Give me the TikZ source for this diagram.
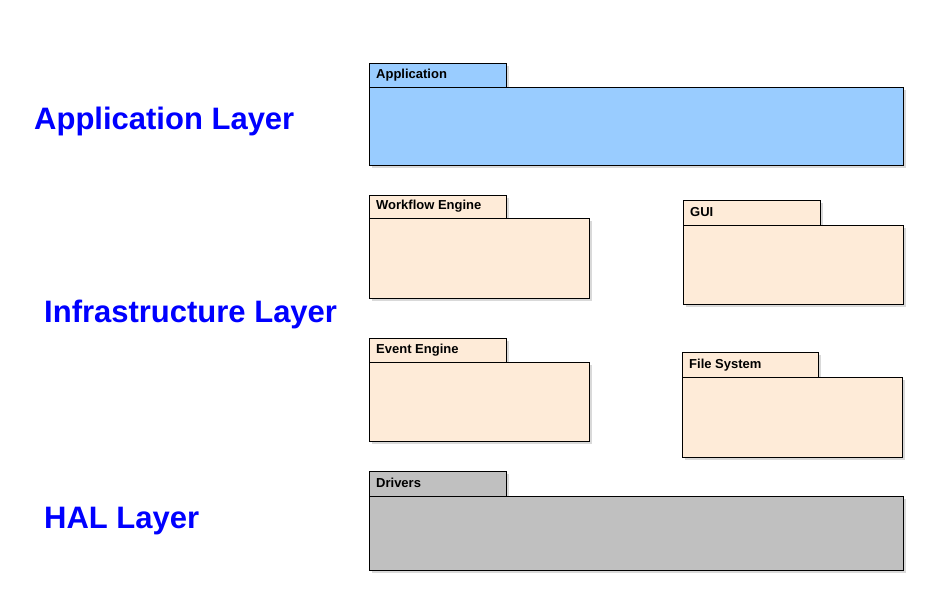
\documentclass[tikz,border=0pt]{standalone}
\usepackage{fontspec}
\setmainfont{Liberation Sans}
\definecolor{appblue}{HTML}{99CCFF}
\definecolor{peach}{HTML}{FEEBD8}
\definecolor{halgray}{HTML}{C0C0C0}
\definecolor{shade}{HTML}{D9D9D9}
\tikzset{
  box/.style={draw=black, line width=1pt, inner sep=0pt, anchor=north west},
  shadowbox/.style={fill=shade, draw=none, inner sep=0pt, anchor=north west},
  tabtext/.style={anchor=base west, inner sep=0pt, font=\bfseries\fontsize{13}{15}\selectfont},
  layer/.style={anchor=base west, inner sep=0pt, text=blue, font=\bfseries\fontsize{31}{36}\selectfont}
}
% #1 name, #2 x, #3 tab top, #4 tab right, #5 body top, #6 body right, #7 body bottom, #8 fill, #9 label
\newcommand\umlpkg[9]{%
  \path[shadowbox] (#2+3,#3+3) rectangle (#4+3,#5+3);
  \path[shadowbox] (#2+3,#5+3) rectangle (#6+3,#7+3);
  \draw[line width=1pt, fill=#8] (#2,#5) rectangle (#6,#7);
  \draw[line width=1pt, fill=#8] (#2,#3) rectangle (#4,#5);
  \node[box, draw=none, minimum width={(#6-#2)*1pt}, minimum height={(#7-#5)*1pt}] (#1) at (#2,#5) {};
  \node[tabtext] (#1-tab) at (#2+7,#5-8.5) {#9};
}
\begin{document}
\begin{tikzpicture}[x=1pt,y=-1pt]
\useasboundingbox (0,0) rectangle (933,595);
\fill[white] (0,0) rectangle (933,595);
\umlpkg{app}{369}{63}{506}{87}{903}{165}{appblue}{Application}
\umlpkg{wf}{369}{195}{506}{218}{589}{298}{peach}{Workflow Engine}
\umlpkg{gui}{683}{200}{820}{225}{903}{304}{peach}{GUI}
\umlpkg{ev}{369}{338}{506}{362}{589}{441}{peach}{Event Engine}
\umlpkg{fs}{682}{352}{818}{377}{902}{457}{peach}{File System}
\umlpkg{drv}{369}{471}{506}{496}{903}{570}{halgray}{Drivers}
\node[layer] (lapp) at (34,129.5) {Application Layer};
\node[layer] (linf) at (44,322.5) {Infrastructure Layer};
\node[layer] (lhal) at (44,528) {HAL Layer};
\end{tikzpicture}
\end{document}
